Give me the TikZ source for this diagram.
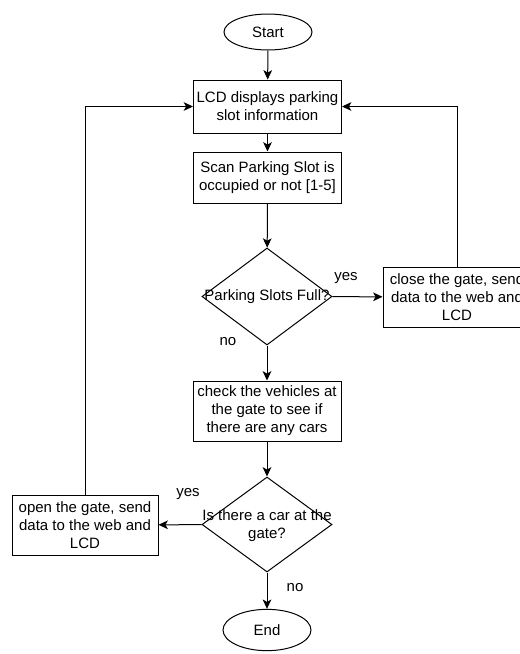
\documentclass[tikz,border=0pt]{standalone}
\usepackage{fontspec}
\setmainfont{Liberation Sans}
\usetikzlibrary{shapes.geometric,arrows.meta}

\begin{document}
\begin{tikzpicture}[x=0.75pt,y=-0.75pt,
    every node/.style={font=\fontsize{11.25}{13.5}\selectfont,align=center},
    terminal/.style={draw,ellipse,line width=0.75pt,minimum width=66pt,minimum height=27pt,inner sep=0pt},
    process/.style={draw,line width=0.75pt,inner sep=0pt,minimum width=111pt},
    decision/.style={draw,diamond,line width=0.75pt,inner sep=0pt,minimum width=97.5pt,minimum height=72.75pt},
    flow/.style={line width=0.75pt,-{Stealth[length=7pt,width=6.5pt,inset=1.8pt]}}]
          \useasboundingbox (0,0) rectangle (520,654);

          \node[terminal] (start) at (268,32) {Start};
          \node[process,minimum height=39.75pt] (lcd) at (267.5,106.5) {LCD displays parking\\slot information};
          \node[process,minimum height=38.25pt] (scan) at (267.5,177.5) {Scan Parking Slot is\\occupied or not [1-5]};

          \node[decision] (full) at (267,296.5) {};
          \node (fulltxt) at (267,297) {Parking Slots Full?};
          \node[process,minimum height=45pt] (close) at (457,297) {close the gate, send\\data to the web and\\LCD};

          \node[process,minimum height=45pt] (check) at (267,411) {check the vehicles at\\the gate to see if\\there are any cars};

          \node[decision,minimum height=71.25pt] (car) at (267,524.5) {};
          \node (cartxt) at (267,526) {Is there a car at the\\gate?};
          \node[process,minimum width=109.5pt,minimum height=45pt] (open) at (85,525) {open the gate, send\\data to the web and\\LCD};

          \node[terminal,minimum height=31pt] (end) at (267,630) {End};

          % answers
          \node (yesfull) at (346,278) {yes};
          \node (nofull) at (228,342) {no};
          \node (yescar) at (188,494) {yes};
          \node (nocar) at (295,588) {no};

          \draw[flow] (start) -- (lcd);
          \draw[flow] (lcd) -- (scan);
          \draw[flow] (scan) -- (full);
          \draw[flow] (full) -- (close);
          \draw[flow] (close.north) |- (lcd.east);
          \draw[flow] (full) -- (check);
          \draw[flow] (check) -- (car);
          \draw[flow] (car) -- (open);
          \draw[flow] (open.north) |- (lcd.west);
          \draw[flow] (car) -- (end);
        \end{tikzpicture}
\end{document}
